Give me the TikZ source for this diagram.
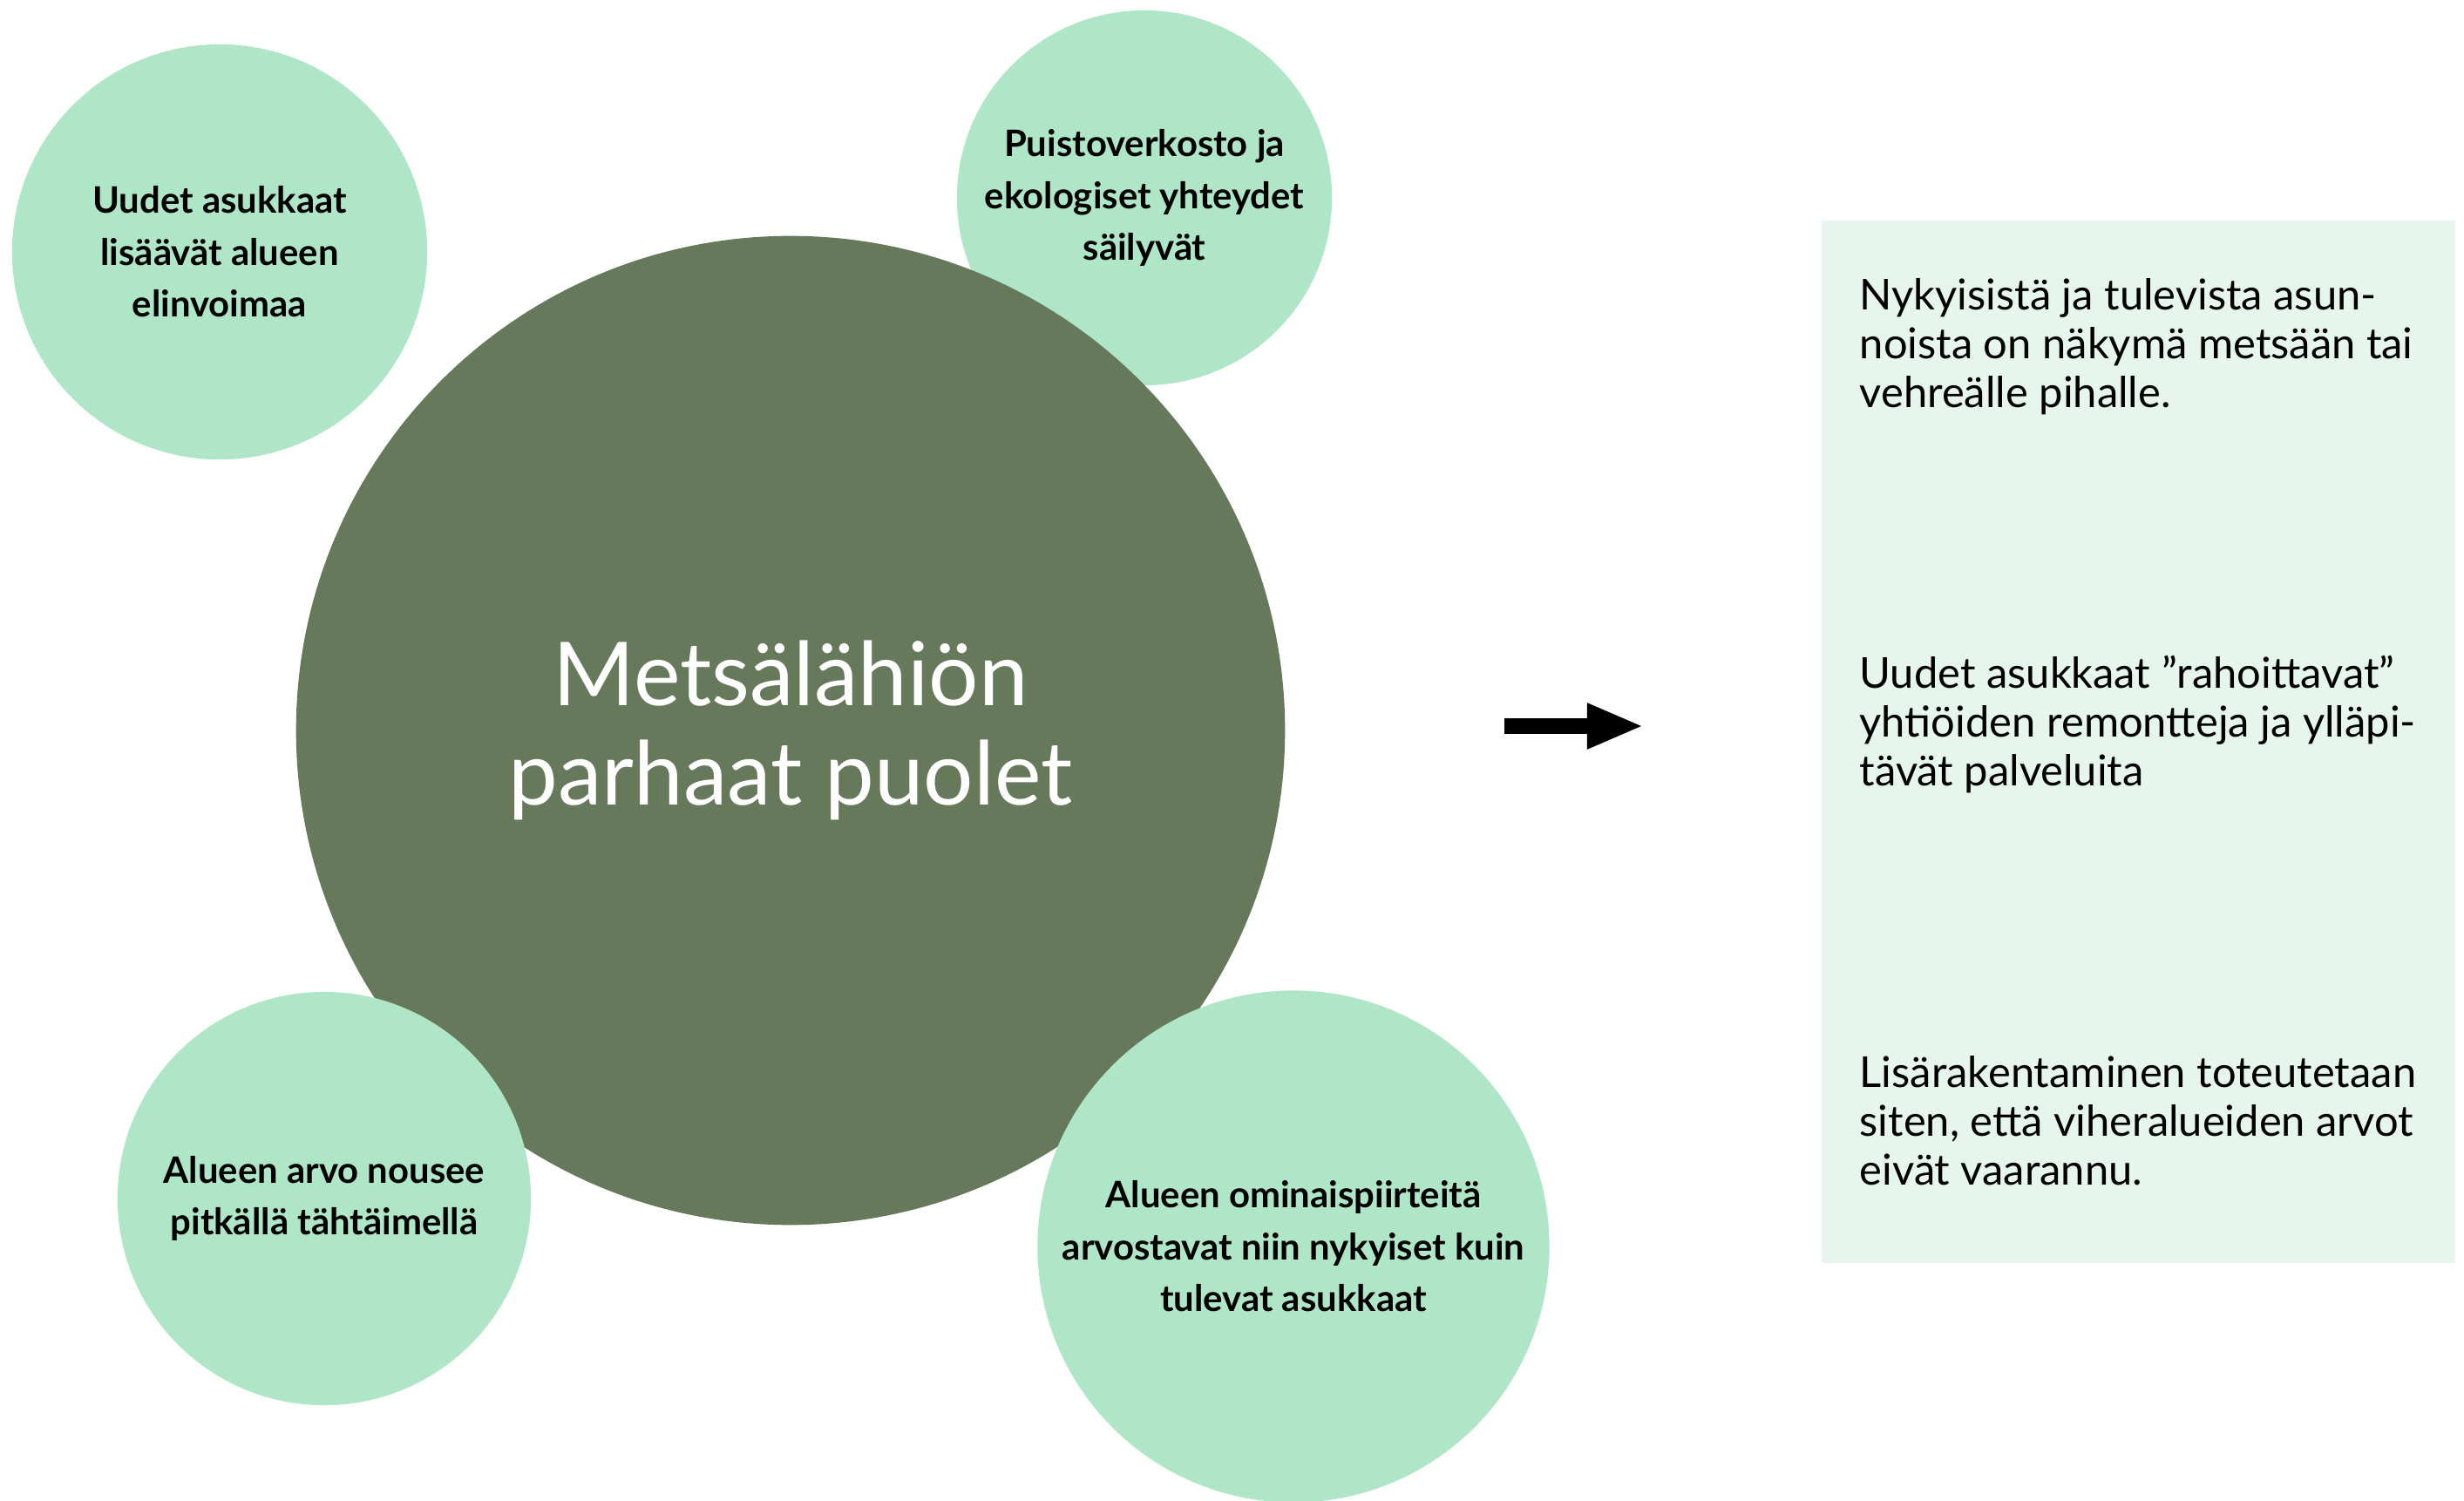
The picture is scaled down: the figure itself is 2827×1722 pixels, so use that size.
\documentclass[tikz,border=0pt]{standalone}
\usepackage{fontspec}
\setmainfont{Lato}
\usetikzlibrary{arrows.meta}
\definecolor{forest}{HTML}{66795A}
\definecolor{mint}{HTML}{B0E6C8}
\definecolor{paleMint}{HTML}{E6F6EC}
\begin{document}
\begin{tikzpicture}[x=0.01cm,y=-0.01cm]
\tikzstyle{bubble}=[circle, fill=mint, inner sep=0pt, align=center, font=\bfseries\fontsize{11.9}{16.9}\selectfont]
\tikzstyle{core}=[circle, fill=forest, text=white, inner sep=0pt, minimum size=11.34cm, align=center, font=\fontsize{28.8}{32.4}\selectfont]
\tikzstyle{panel}=[fill=paleMint, inner sep=0pt, anchor=north west, minimum width=7.27cm, minimum height=11.96cm]
\tikzstyle{note}=[anchor=west, align=left, inner sep=0pt, font=\fontsize{13.9}{15.9}\selectfont]

\useasboundingbox (0,0) rectangle (2827,1722);

\node[bubble, minimum size=4.30cm] (P) at (1313, 227) {Puistoverkosto ja\\ekologiset yhteydet\\säilyvät};
\node[core] (M) at (907, 838) {Metsälähiön\\parhaat puolet};
\node[bubble, minimum size=4.76cm] (U) at (252, 289) {Uudet asukkaat\\lisäävät alueen\\elinvoimaa};
\node[bubble, minimum size=4.74cm] (N) at (372, 1375) {Alueen arvo nousee\\pitkällä tähtäimellä};
\node[bubble, minimum size=5.87cm] (O) at (1484, 1430) {Alueen ominaispiirteitä\\arvostavat niin nykyiset kuin\\tulevat asukkaat};

\node[panel] (R) at (2089, 252) {};
\node[note] (R1) at (2133, 398) {Nykyisistä ja tulevista asun-\\noista on näkymä metsään tai\\vehreälle pihalle.};
\node[note] (R2) at (2133, 831) {Uudet asukkaat ”rahoittavat”\\yhtiöiden remontteja ja ylläpi-\\tävät palveluita};
\node[note] (R3) at (2133, 1286) {Lisärakentaminen toteutetaan\\siten, että viheralueiden arvot\\eivät vaarannu.};

\coordinate (a1) at (1726, 833);
\coordinate (a2) at (1886, 833);
\draw[line width=0.18cm, -{Triangle[length=0.65cm, width=0.48cm]}] (a1) -- (a2);
\end{tikzpicture}
\end{document}
